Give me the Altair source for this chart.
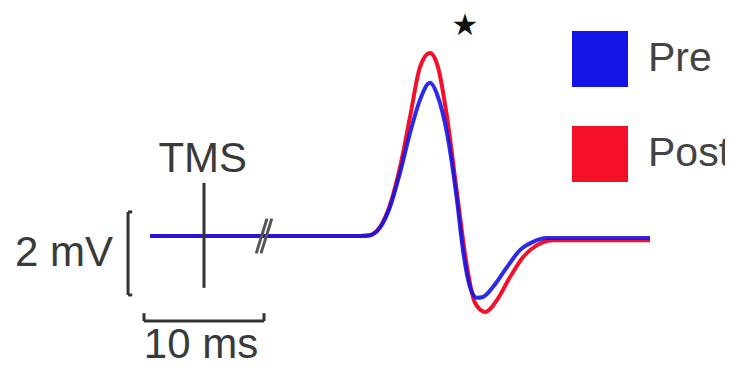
import altair as alt
import pandas as pd

# ---- data (time in ms relative to TMS pulse, amplitude in mV) ----
series_names = ["Pre", "Post"]
series_colors = ["#1414e6", "#f5102a"]

pre_time = [-4.5, 13.0, 13.83, 14.67, 15.5, 16.33, 17.17, 18.0, 18.83, 19.5, 20.25,
            21.08, 21.58, 22.17, 22.75, 23.25, 24.08, 25.25, 26.33, 27.42, 28.58,
            32.42, 37.17]
pre_mv = [0.0, 0.0, 0.02, 0.2, 0.70, 1.52, 2.48, 3.28, 3.69, 3.35, 2.48,
          0.87, -0.34, -1.23, -1.49, -1.47, -1.23, -0.75, -0.34, -0.14, -0.05,
          -0.05, -0.05]

post_time = [-4.5, 13.0, 13.83, 14.67, 15.5, 16.33, 17.17, 18.0, 18.83, 19.5, 20.25,
             21.08, 21.92, 22.58, 23.42, 24.42, 25.5, 26.58, 27.75, 29.08, 37.17]
post_mv = [0.0, 0.0, 0.02, 0.22, 0.75, 1.65, 2.87, 4.07, 4.41, 4.07, 2.87,
           1.04, -0.75, -1.61, -1.83, -1.54, -0.99, -0.51, -0.22, -0.10, -0.10]

# annotation values
scalebar_ms = 10
scalebar_mv = 2
tms_label = "TMS"
star_label = "★"

pre_df = pd.DataFrame({"t": pre_time, "mv": pre_mv, "series": "Pre"})
post_df = pd.DataFrame({"t": post_time, "mv": post_mv, "series": "Post"})

xs = alt.Scale(domain=[-16.333, 43.417], nice=False, zero=False)
ys = alt.Scale(domain=[-2.988, 5.494], nice=False, zero=False)
cs = alt.Scale(domain=series_names, range=series_colors)

X = lambda f: alt.X(f, scale=xs, axis=None)
Y = lambda f: alt.Y(f, scale=ys, axis=None)

def trace(df, color, opacity):
    return alt.Chart(df).mark_line(
        strokeWidth=4, interpolate="monotone", color=color, opacity=opacity
    ).encode(x=X("t:Q"), y=Y("mv:Q"))

post_line = trace(post_df, series_colors[1], 1.0)
pre_line = trace(pre_df, series_colors[0], 0.9)

# legend carrier: filled squares, no rows drawn
legend_layer = alt.Chart(pd.DataFrame({"series": series_names})).mark_square(
    filled=True, opacity=1, size=3136
).encode(
    color=alt.Color("series:N", scale=cs, legend=alt.Legend(
        orient="none", legendX=564, legendY=23, title=None,
        symbolType="square", symbolSize=3136, symbolStrokeWidth=0, symbolOpacity=1,
        labelFontSize=41, labelFont="Liberation Sans", labelColor="#444444",
        rowPadding=39, labelOffset=20, padding=0,
    ))
).transform_filter("false")

# scale bars and TMS marker (segments in data units)
y_bar = -2.05
x_vbar = -6.33
segs = pd.DataFrame({
    "x": [-scalebar_ms / 2, -scalebar_ms / 2, scalebar_ms / 2, x_vbar, x_vbar, x_vbar, 0.0],
    "x2": [scalebar_ms / 2, -scalebar_ms / 2, scalebar_ms / 2, x_vbar, x_vbar + 0.35, x_vbar + 0.35, 0.0],
    "y": [y_bar, y_bar, y_bar, 0.58, 0.58, 0.58 - scalebar_mv, 1.28],
    "y2": [y_bar, y_bar + 0.19, y_bar + 0.19, 0.58 - scalebar_mv, 0.58, 0.58 - scalebar_mv, -1.25],
})
seg_layer = alt.Chart(segs).mark_rule(color="#333333", strokeWidth=3).encode(
    x=X("x:Q"), x2="x2:Q", y=Y("y:Q"), y2="y2:Q",
)

# axis break "//"
brk = pd.DataFrame({
    "x": [4.35, 4.75], "x2": [5.25, 5.65],
    "y": [-0.42, -0.42], "y2": [0.42, 0.42],
})
brk_layer = alt.Chart(brk).mark_rule(color="#555555", strokeWidth=3).encode(
    x=X("x:Q"), x2="x2:Q", y=Y("y:Q"), y2="y2:Q",
)

labels = pd.DataFrame({
    "x": [-0.1, -7.58, -0.25],
    "y": [1.54, -0.72, -2.94],
    "text": [tms_label, f"{scalebar_mv} mV", f"{scalebar_ms} ms"],
    "align": ["center", "right", "center"],
})
lab_center = alt.Chart(labels[labels["align"] == "center"]).mark_text(
    font="Liberation Sans", fontSize=42, color="#3a3a3a", align="center", baseline="alphabetic"
).encode(x=X("x:Q"), y=Y("y:Q"), text="text:N")
lab_right = alt.Chart(labels[labels["align"] == "right"]).mark_text(
    font="Liberation Sans", fontSize=42, color="#3a3a3a", align="right", baseline="alphabetic"
).encode(x=X("x:Q"), y=Y("y:Q"), text="text:N")

star = alt.Chart(pd.DataFrame({"x": [21.75], "y": [5.06], "text": [star_label]})).mark_text(
    font="DejaVu Sans", fontSize=30, color="#111111", baseline="middle"
).encode(x=X("x:Q"), y=Y("y:Q"), text="text:N")

chart = alt.layer(
    post_line, pre_line, seg_layer, brk_layer, lab_center, lab_right, star, legend_layer
).properties(
    width=717, height=352, padding=0, autosize=alt.AutoSizeParams(type="none")
).configure_view(stroke=None)

chart.save("out.html", embed_options={"renderer": "svg", "actions": False})
